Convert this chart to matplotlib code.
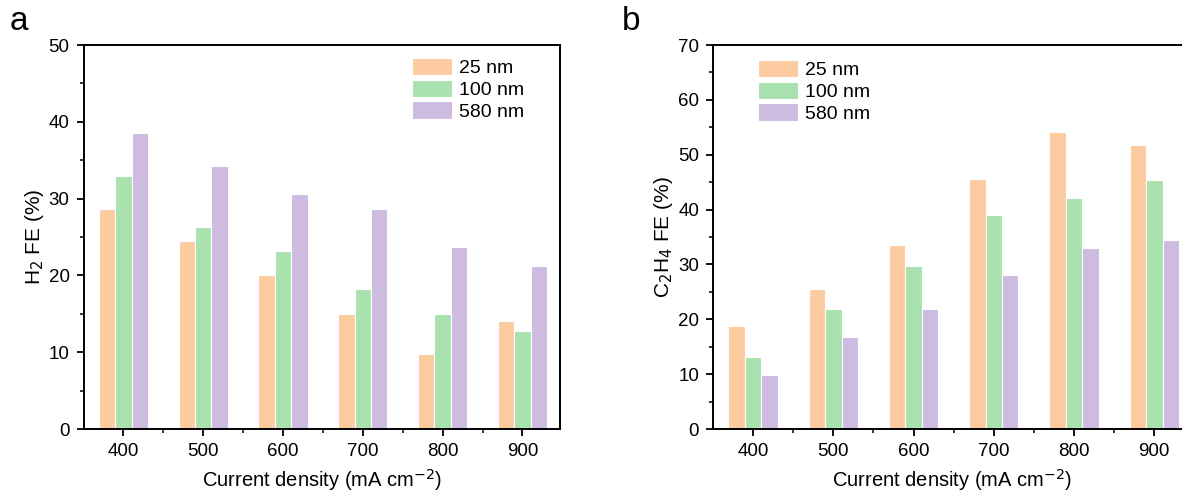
import numpy as np
import matplotlib.pyplot as plt
from matplotlib.ticker import MultipleLocator, FixedLocator

plt.rcParams['font.family'] = ['Liberation Sans', 'DejaVu Sans']

densities = ['400', '500', '600', '700', '800', '900']
sizes = ['25 nm', '100 nm', '580 nm']
colors = ['#FDCBA0', '#A9E2AF', '#CDBBE0']

h2_25 = [28.7, 24.5, 20.1, 15.0, 9.8, 14.1]
h2_100 = [32.9, 26.3, 23.2, 18.2, 15.0, 12.8]
h2_580 = [38.5, 34.2, 30.6, 28.7, 23.7, 21.2]

c2h4_25 = [18.7, 25.6, 33.6, 45.5, 54.1, 51.7]
c2h4_100 = [13.2, 21.9, 29.8, 39.0, 42.2, 45.3]
c2h4_580 = [9.9, 16.7, 21.8, 28.1, 33.0, 34.5]

W, H = 1182, 493
fig = plt.figure(figsize=(W / 100, H / 100), dpi=100)
fig.patch.set_facecolor('white')

ax1 = fig.add_axes([83.5 / W, 1 - 429 / H, (560 - 83.5) / W, 384 / H])
ax2 = fig.add_axes([713 / W, 1 - 429 / H, (1192 - 713) / W, 384 / H])


def draw(ax, series, ymax, ylabel, leg_anchor):
    x = np.arange(len(densities))
    offs = [-0.205, 0, 0.205]
    for vals, off, col, lab in zip(series, offs, colors, sizes):
        ax.bar(x + off, vals, width=0.205, color=col, edgecolor='white',
               linewidth=0.8, label=lab, zorder=2)
    ax.set_xlim(-0.5, 5.47)
    ax.set_ylim(0, ymax)
    ax.set_xticks(x)
    ax.set_xticklabels(densities)
    ax.xaxis.set_minor_locator(FixedLocator(x + 0.5))
    ax.yaxis.set_major_locator(MultipleLocator(10))
    ax.yaxis.set_minor_locator(MultipleLocator(5))
    ax.tick_params(which='major', direction='out', length=5, width=1.3,
                   labelsize=13.5, pad=5, top=False, right=False)
    ax.tick_params(which='minor', direction='out', length=3, width=1.1,
                   top=False, right=False)
    for s in ax.spines.values():
        s.set_linewidth(1.4)
    ax.set_xlabel('Current density (mA cm$^{-2}$)', fontsize=14.5, labelpad=5)
    ax.set_ylabel(ylabel, fontsize=15, labelpad=2)
    ax.legend(loc='upper left', bbox_to_anchor=leg_anchor, frameon=False,
              fontsize=14, handlelength=2.05, handleheight=1.0,
              labelspacing=0.12, handletextpad=0.35, borderpad=0, borderaxespad=0)


draw(ax1, [h2_25, h2_100, h2_580], 50, 'H$_2$ FE (%)', (0.69, 0.966))
draw(ax2, [c2h4_25, c2h4_100, c2h4_580], 70, 'C$_2$H$_4$ FE (%)', (0.094, 0.961))

fig.text(10 / W, 1 - 22 / H, 'a', fontsize=24, va='center', ha='left')
fig.text(622 / W, 1 - 22 / H, 'b', fontsize=24, va='center', ha='left')

fig.savefig('out.png', dpi=100)
